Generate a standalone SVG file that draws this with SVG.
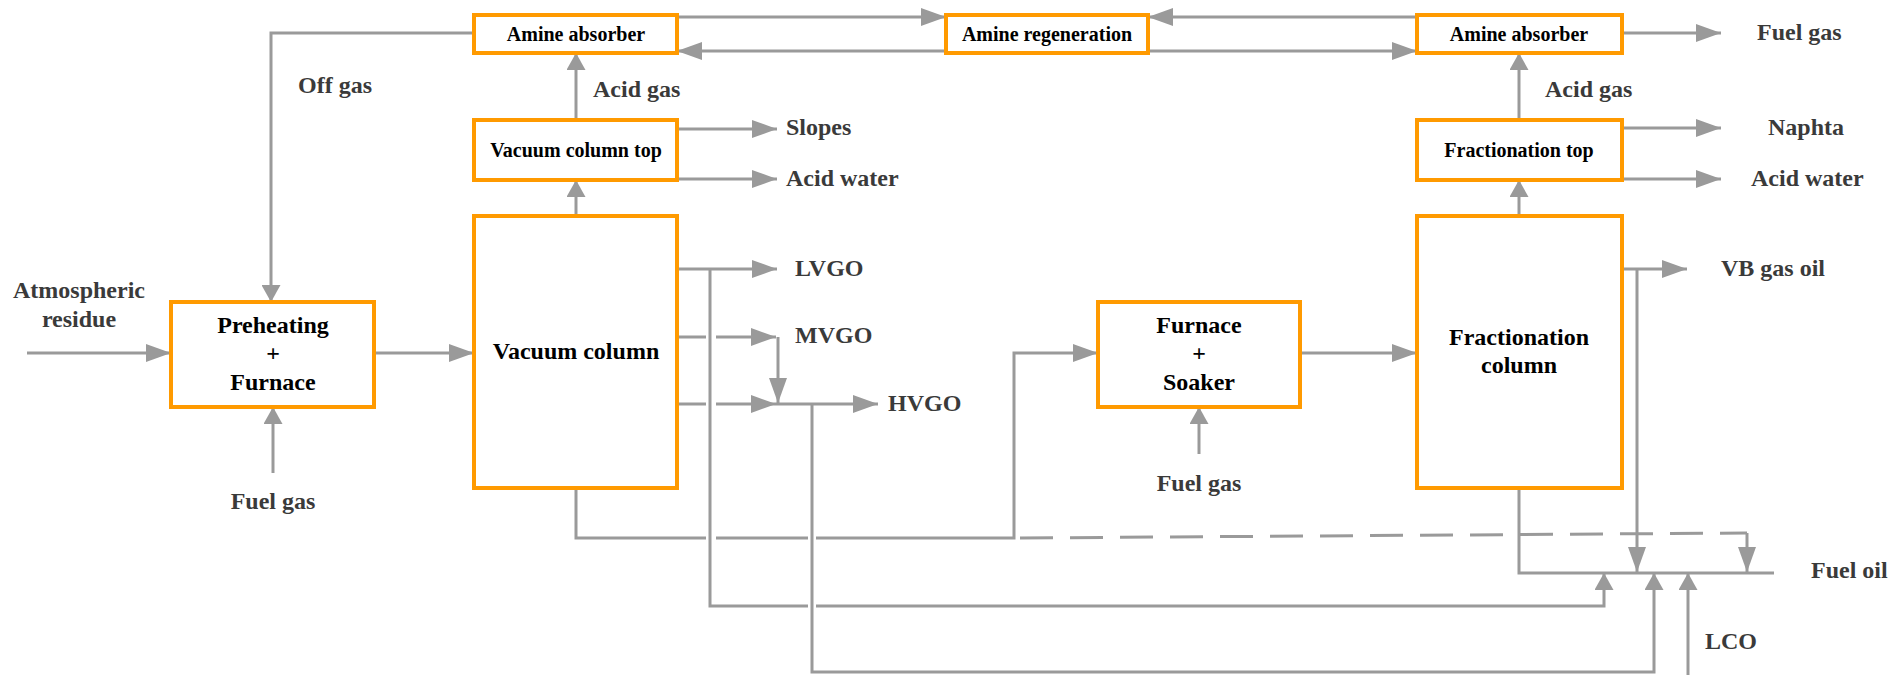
<svg xmlns="http://www.w3.org/2000/svg" width="1892" height="675" viewBox="0 0 1892 675">
<style>
.node rect{fill:#fff;stroke:#FF9A00;stroke-width:4}
.node text{font-family:"Liberation Serif","Times New Roman",serif;font-weight:bold;fill:#000;text-anchor:middle}
.t20{font-size:20px}
.t24{font-size:24px}
.lbl{font-family:"Liberation Serif","Times New Roman",serif;font-weight:bold;font-size:24px;fill:#3a3a3a}
.mid{text-anchor:middle}
#connectors path{fill:none;stroke:#9a9a9a;stroke-width:3}
#connectors .dash{stroke-dasharray:33 17}
</style>
<defs>
<marker id="ah" markerUnits="userSpaceOnUse" markerWidth="25" markerHeight="18" refX="25" refY="9" orient="auto"><path d="M0,0 L25,9 L0,18 z" fill="#9a9a9a"/></marker>
<marker id="av" markerUnits="userSpaceOnUse" markerWidth="17" markerHeight="19" refX="17" refY="9.5" orient="auto"><path d="M0,0 L17,9.5 L0,19 z" fill="#9a9a9a"/></marker>
</defs>
<rect width="1892" height="675" fill="#fff"/>
<g id="connectors">
<path d="M474,33 H271 V302" marker-end="url(#av)"/>
<path d="M576,120 V53" marker-end="url(#av)"/>
<path d="M576,216 V180" marker-end="url(#av)"/>
<path d="M677,17 H946" marker-end="url(#ah)"/>
<path d="M946,51 H677" marker-end="url(#ah)"/>
<path d="M1148,51 H1417" marker-end="url(#ah)"/>
<path d="M1417,17 H1148" marker-end="url(#ah)"/>
<path d="M1622,33 H1721" marker-end="url(#ah)"/>
<path d="M1519,120 V53" marker-end="url(#av)"/>
<path d="M1519,216 V180" marker-end="url(#av)"/>
<path d="M1622,128 H1721" marker-end="url(#ah)"/>
<path d="M1622,179 H1721" marker-end="url(#ah)"/>
<path d="M677,129 H777" marker-end="url(#ah)"/>
<path d="M677,179 H777" marker-end="url(#ah)"/>
<path d="M27,353 H171" marker-end="url(#ah)"/>
<path d="M374,353 H474" marker-end="url(#ah)"/>
<path d="M273,473 V407" marker-end="url(#av)"/>
<path d="M677,269 H777" marker-end="url(#ah)"/>
<path d="M677,337 H706 M716,337 H776" marker-end="url(#ah)"/>
<path d="M778,337 V403" marker-end="url(#ah)"/>
<path d="M677,404 H706 M716,404 H776" marker-end="url(#ah)"/>
<path d="M776,404 H878" marker-end="url(#ah)"/>
<path d="M710,269 V606 H808 M816,606 H1604 V573" marker-end="url(#av)"/>
<path d="M812,404 V672 H1654 V573" marker-end="url(#av)"/>
<path d="M576,488 V538 H706 M716,538 H808 M816,538 H1014 V353 H1098" marker-end="url(#ah)"/>
<path class="dash" d="M1020,538 L1747,533"/>
<path d="M1747,533 V572" marker-end="url(#ah)"/>
<path d="M1300,353 H1417" marker-end="url(#ah)"/>
<path d="M1199,454 V407" marker-end="url(#av)"/>
<path d="M1622,269 H1687" marker-end="url(#ah)"/>
<path d="M1637,269 V572" marker-end="url(#ah)"/>
<path d="M1519,488 V573 H1774"/>
<path d="M1688,675 V573" marker-end="url(#av)"/>
</g>
<g id="amine_absorber_left" class="node"><rect x="474" y="15" width="203" height="38"/><text class="t20" x="576" y="41">Amine absorber</text></g>
<g id="amine_regeneration" class="node"><rect x="946" y="15" width="202" height="38"/><text class="t20" x="1047" y="41">Amine regeneration</text></g>
<g id="amine_absorber_right" class="node"><rect x="1417" y="15" width="205" height="38"/><text class="t20" x="1519" y="41">Amine absorber</text></g>
<g id="vacuum_column_top" class="node"><rect x="474" y="120" width="203" height="60"/><text class="t20" x="576" y="157">Vacuum column top</text></g>
<g id="fractionation_top" class="node"><rect x="1417" y="120" width="205" height="60"/><text class="t20" x="1519" y="157">Fractionation top</text></g>
<g id="preheating_furnace" class="node"><rect x="171" y="302" width="203" height="105"/><text class="t24" x="273" y="333">Preheating</text><text class="t24" x="273" y="361">+</text><text class="t24" x="273" y="390">Furnace</text></g>
<g id="vacuum_column" class="node"><rect x="474" y="216" width="203" height="272"/><text class="t24" x="576" y="359">Vacuum column</text></g>
<g id="furnace_soaker" class="node"><rect x="1098" y="302" width="202" height="105"/><text class="t24" x="1199" y="333">Furnace</text><text class="t24" x="1199" y="361">+</text><text class="t24" x="1199" y="390">Soaker</text></g>
<g id="fractionation_column" class="node"><rect x="1417" y="216" width="205" height="272"/><text class="t24" x="1519" y="345">Fractionation</text><text class="t24" x="1519" y="373">column</text></g>
<g id="labels">
<text class="lbl" x="298" y="93">Off gas</text>
<text class="lbl" x="593" y="97">Acid gas</text>
<text class="lbl" x="786" y="135">Slopes</text>
<text class="lbl" x="786" y="186">Acid water</text>
<text class="lbl" x="1757" y="40">Fuel gas</text>
<text class="lbl" x="1545" y="97">Acid gas</text>
<text class="lbl" x="1768" y="135">Naphta</text>
<text class="lbl" x="1751" y="186">Acid water</text>
<text class="lbl mid" x="79" y="298">Atmospheric</text>
<text class="lbl mid" x="79" y="327">residue</text>
<text class="lbl" x="795" y="276">LVGO</text>
<text class="lbl" x="795" y="343">MVGO</text>
<text class="lbl" x="888" y="411">HVGO</text>
<text class="lbl mid" x="273" y="509">Fuel gas</text>
<text class="lbl mid" x="1199" y="491">Fuel gas</text>
<text class="lbl" x="1721" y="276">VB gas oil</text>
<text class="lbl" x="1811" y="578">Fuel oil</text>
<text class="lbl" x="1705" y="649">LCO</text>
</g>
</svg>
